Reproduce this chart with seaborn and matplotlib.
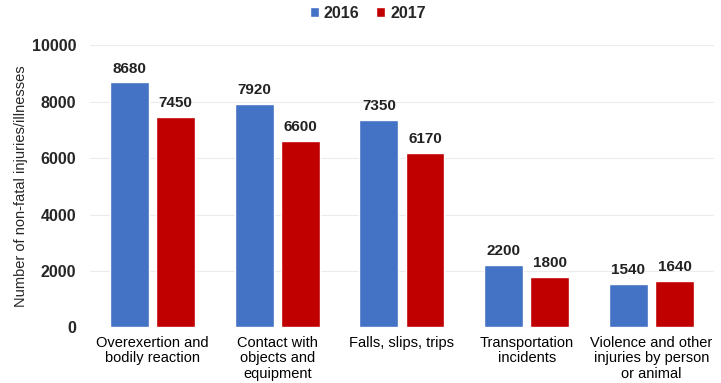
import pandas as pd
import matplotlib.pyplot as plt
import seaborn as sns

categories = ['Overexertion and\nbodily reaction', 'Contact with\nobjects and\nequipment',
              'Falls, slips, trips', 'Transportation\nincidents',
              'Violence and other\ninjuries by person\nor animal']
years = ['2016', '2017']
values_2016 = [8680, 7920, 7350, 2200, 1540]
values_2017 = [7450, 6600, 6170, 1800, 1640]

df = pd.DataFrame({
    'Category': categories * 2,
    'Year': ['2016'] * 5 + ['2017'] * 5,
    'Value': values_2016 + values_2017,
})

sns.set_style('white')
plt.rcParams['font.family'] = ['Liberation Sans', 'DejaVu Sans']

fig, ax = plt.subplots(figsize=(7.21, 3.83), dpi=100)
sns.barplot(data=df, x='Category', y='Value', hue='Year', hue_order=years,
            palette={'2016': '#4472C4', '2017': '#C00000'}, saturation=1,
            width=0.74, gap=0.16, ax=ax, legend=True)

for cont in ax.containers:
    ax.bar_label(cont, fmt='%d', padding=5, fontsize=11, fontweight='bold', color='#222222')

ax.set_ylim(0, 10000)
ax.set_yticks(range(0, 10001, 2000))
ax.yaxis.grid(True, color='#ececec', linewidth=0.8)
ax.set_axisbelow(True)
for s in ax.spines.values():
    s.set_visible(False)
ax.tick_params(axis='both', length=0)
ax.tick_params(axis='y', labelsize=11.5, pad=10)
ax.tick_params(axis='x', labelsize=10.5, pad=6)
for lbl in ax.get_yticklabels():
    lbl.set_fontweight('bold')
for lbl in ax.get_xticklabels():
    lbl.set_color('black')
    lbl.set_linespacing(1.15)
ax.set_xlabel('')
ax.set_ylabel('Number of non-fatal injuries/illnesses', fontsize=10.5)
ax.yaxis.set_label_coords(-0.10, 0.50)

ax.legend(loc='upper center', bbox_to_anchor=(0.445, 1.19), ncol=2, frameon=False,
          prop={'weight': 'bold', 'size': 11.5}, handlelength=0.6, handleheight=0.6,
          handletextpad=0.3, columnspacing=1.0)

fig.subplots_adjust(left=0.125, right=0.99, top=0.882, bottom=0.145)
fig.savefig('out.png', dpi=100)
